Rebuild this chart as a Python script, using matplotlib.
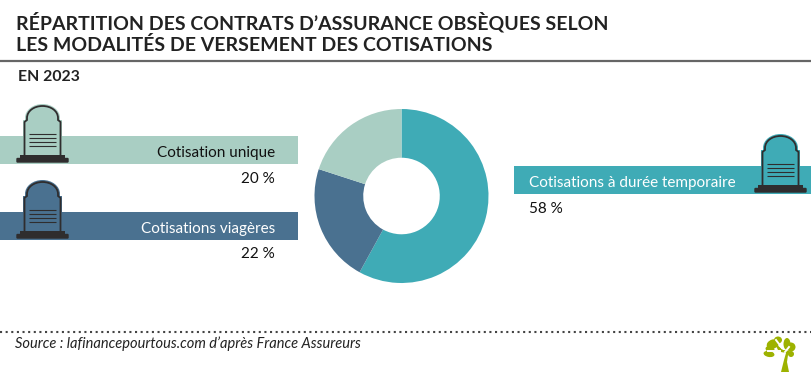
import matplotlib
matplotlib.use("Agg")
import matplotlib.pyplot as plt
from matplotlib.patches import PathPatch, Rectangle, FancyBboxPatch, Ellipse, Polygon
from matplotlib.path import Path

plt.rcParams["font.family"] = ["Lato", "DejaVu Sans"]

# --- Data ---
labels = ["Cotisations à durée temporaire", "Cotisations viagères", "Cotisation unique"]
shares = [58, 22, 20]
share_labels = ["58 %", "22 %", "20 %"]
colors = ["#3FABB6", "#4A7190", "#A9CEC3"]

title_lines = ["RÉPARTITION DES CONTRATS D’ASSURANCE OBSÈQUES SELON",
               "LES MODALITÉS DE VERSEMENT DES COTISATIONS"]
subtitle = "EN 2023"
source = "Source : lafinancepourtous.com d’après France Assureurs"

DARK = "#2F2D2E"


def tombstone(ax, dx, dy, fill):
    # drawn in page pixels, (dx, dy) moves the whole icon
    v = [(23, 164), (23, 120), (25, 120), (25, 118),
         (25, 110), (33, 104), (42.5, 104),
         (52, 104), (60, 110), (60, 118), (60, 120), (62, 120), (62, 164), (23, 164)]
    c = [Path.MOVETO, Path.LINETO, Path.LINETO, Path.LINETO,
         Path.CURVE4, Path.CURVE4, Path.CURVE4,
         Path.CURVE4, Path.CURVE4, Path.CURVE4, Path.LINETO, Path.LINETO, Path.LINETO, Path.CLOSEPOLY]
    v = [(x + dx, y + dy) for x, y in v]
    ax.add_patch(PathPatch(Path(v, c), fc=fill, ec="none", zorder=3))
    inner = [(24.5, 158), (24.5, 122), (27, 120), (27, 118),
             (27, 111), (34, 106), (42.5, 106),
             (51, 106), (58, 111), (58, 118), (58, 120), (60.5, 122), (60.5, 158)]
    ic = [Path.MOVETO, Path.LINETO, Path.LINETO, Path.LINETO,
          Path.CURVE4, Path.CURVE4, Path.CURVE4,
          Path.CURVE4, Path.CURVE4, Path.CURVE4, Path.LINETO, Path.LINETO, Path.LINETO]
    inner = [(x + dx, y + dy) for x, y in inner]
    ax.add_patch(PathPatch(Path(inner, ic), fc="none", ec=DARK, lw=1.3, zorder=4))
    for y in [134, 138, 142, 146]:
        ax.plot([29 + dx, 56 + dx], [y + dy, y + dy], color=DARK, lw=0.8, zorder=4,
                solid_capstyle="butt")
    ax.add_patch(Rectangle((20 + dx, 154.5 + dy), 45, 5, fc=DARK, ec="none", zorder=5))
    ax.add_patch(FancyBboxPatch((17.5 + dx, 159 + dy), 50, 2.5, boxstyle="round,pad=1.2",
                                fc=DARK, ec="none", zorder=5))


fig = plt.figure(figsize=(8.12, 3.72), dpi=100)
ax = fig.add_axes([0, 0, 1, 1])
ax.set_xlim(0, 812)
ax.set_ylim(372, 0)
ax.axis("off")

# header
ax.text(16, 22, title_lines[0], fontsize=14, fontweight="bold", color="#222222", va="center", ha="left")
ax.text(16, 45, title_lines[1], fontsize=14, fontweight="bold", color="#222222", va="center", ha="left")
ax.plot([0, 812], [61, 61], color="#666666", lw=1.6)
ax.text(18, 77, subtitle, fontsize=11.4, fontweight="bold", color="#222222", va="center", ha="left")

# label bands
ax.add_patch(Rectangle((0, 136), 298, 28, fc=colors[2], ec="none"))
ax.add_patch(Rectangle((0, 212), 298, 28, fc=colors[1], ec="none"))
ax.add_patch(Rectangle((514, 166), 298, 28, fc=colors[0], ec="none"))

tombstone(ax, 0, 0, colors[2])
tombstone(ax, 0, 76, colors[1])
tombstone(ax, 738, 30, colors[0])

ax.text(275, 153, labels[2], fontsize=11, color="#111111", ha="right", va="center")
ax.text(275, 179, share_labels[2], fontsize=11, color="#111111", ha="right", va="center")
ax.text(275, 229, labels[1], fontsize=11, color="white", ha="right", va="center")
ax.text(275, 254, share_labels[1], fontsize=11, color="#111111", ha="right", va="center")
ax.text(529, 183, labels[0], fontsize=11, color="white", ha="left", va="center")
ax.text(529, 209, share_labels[0], fontsize=11, color="#111111", ha="left", va="center")

# footer
ax.plot([0, 812], [332, 332], color="#444444", lw=1.5, ls=(0, (1, 1.7)))
ax.text(15, 344, source, fontsize=10.5, fontstyle="italic", color="#222222", ha="left", va="center")

# tree logo
tree = "#9DB200"
for x, y, w, h, a in [(773, 344, 13, 9, -20), (778, 340, 8, 7, 0), (787, 344, 7, 12, 0),
                      (791, 347, 9, 9, 0), (769, 354, 11, 6, 10), (770, 349, 9, 6, 10),
                      (791, 354, 6, 6, 0)]:
    ax.add_patch(Ellipse((x, y), w, h, angle=a, fc=tree, ec="none"))
for xs, ys in [([776, 782], [340, 348]), ([768, 780], [351, 351]), ([785, 789], [352, 347])]:
    ax.plot(xs, ys, color="white", lw=1.4)
ax.add_patch(Polygon([(781, 372), (784, 360), (786, 353), (781, 352), (770, 351), (770, 350),
                     (778, 350), (775, 344), (776, 344), (783, 350), (786, 350), (790, 351),
                     (788, 355), (787, 362), (789, 372)], fc=tree, ec="none"))

# donut, in its own square axes so the circle stays round
cx, cy, r = 401.5, 196, 87
ax_pie = fig.add_axes([(cx - r) / 812, 1 - (cy + r) / 372, 2 * r / 812, 2 * r / 372])
ax_pie.pie(shares, colors=colors, startangle=90, counterclock=False, radius=1,
           wedgeprops={"width": 0.56, "linewidth": 0})
ax_pie.set_xlim(-1, 1)
ax_pie.set_ylim(-1, 1)

fig.savefig("out.png", dpi=100)
